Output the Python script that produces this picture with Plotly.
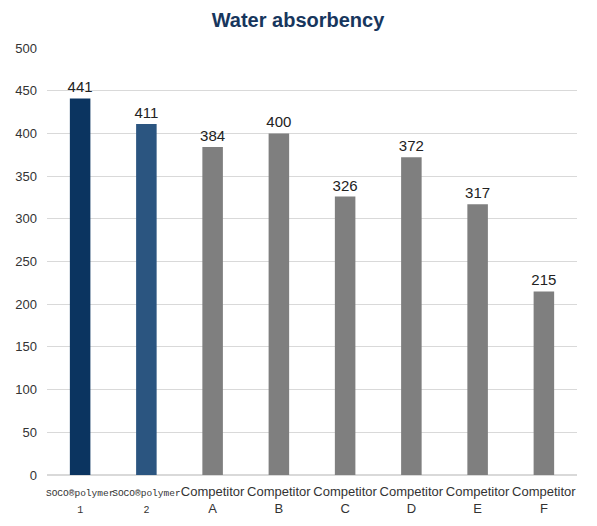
import plotly.graph_objects as go

# Water absorbency per product
categories = [
    "<span style='font-family:\"Liberation Mono\",monospace;font-size:9.5px'>SOCO®polymer</span><br><span style='font-family:\"Liberation Mono\",monospace;font-size:10px'>1</span>",
    "<span style='font-family:\"Liberation Mono\",monospace;font-size:9.5px'>SOCO®polymer</span><br><span style='font-family:\"Liberation Mono\",monospace;font-size:10px'>2</span>",
    "Competitor<br>A",
    "Competitor<br>B",
    "Competitor<br>C",
    "Competitor<br>D",
    "Competitor<br>E",
    "Competitor<br>F",
]
values = [441, 411, 384, 400, 326, 372, 317, 215]
bar_colors = ["#0B3460", "#2B5580"] + ["#7F7F7F"] * 6

fig = go.Figure()

fig.add_trace(go.Bar(
    x=categories,
    y=values,
    marker=dict(color=bar_colors, line=dict(width=0)),
    text=values,
    textposition='outside',
    constraintext='none',
    textfont=dict(family='Liberation Sans, Arial', size=15, color='#222222'),
    cliponaxis=False,
))

# page body adds an 8px offset, margins compensate for it
fig.update_layout(
    title={
        'text': '<b>Water absorbency</b>',
        'x': 290 / 597,
        'xref': 'container',
        'y': 0.99,
        'xanchor': 'center',
        'yanchor': 'top',
        'font': dict(family='Liberation Sans, Arial', size=20, color='#17365D'),
    },
    width=597,
    height=526,
    margin=dict(l=39, r=28, t=40, b=59),
    paper_bgcolor='white',
    plot_bgcolor='white',
    bargap=0.69,
    showlegend=False,
    font=dict(family='Liberation Sans, Arial', size=13, color='#333333'),
)

fig.update_yaxes(
    range=[0, 500],
    dtick=50,
    automargin=False,
    showgrid=True,
    gridcolor='#D9D9D9',
    gridwidth=1,
    zeroline=True,
    zerolinecolor='#D9D9D9',
    tickfont=dict(size=13, color='#333333'),
    ticklabelstandoff=9,
)

fig.update_xaxes(
    showline=False,
    tickangle=0,
    automargin=False,
    ticklabelstandoff=7,
    tickfont=dict(size=13, color='#333333'),
)

fig.write_html("out.html")
